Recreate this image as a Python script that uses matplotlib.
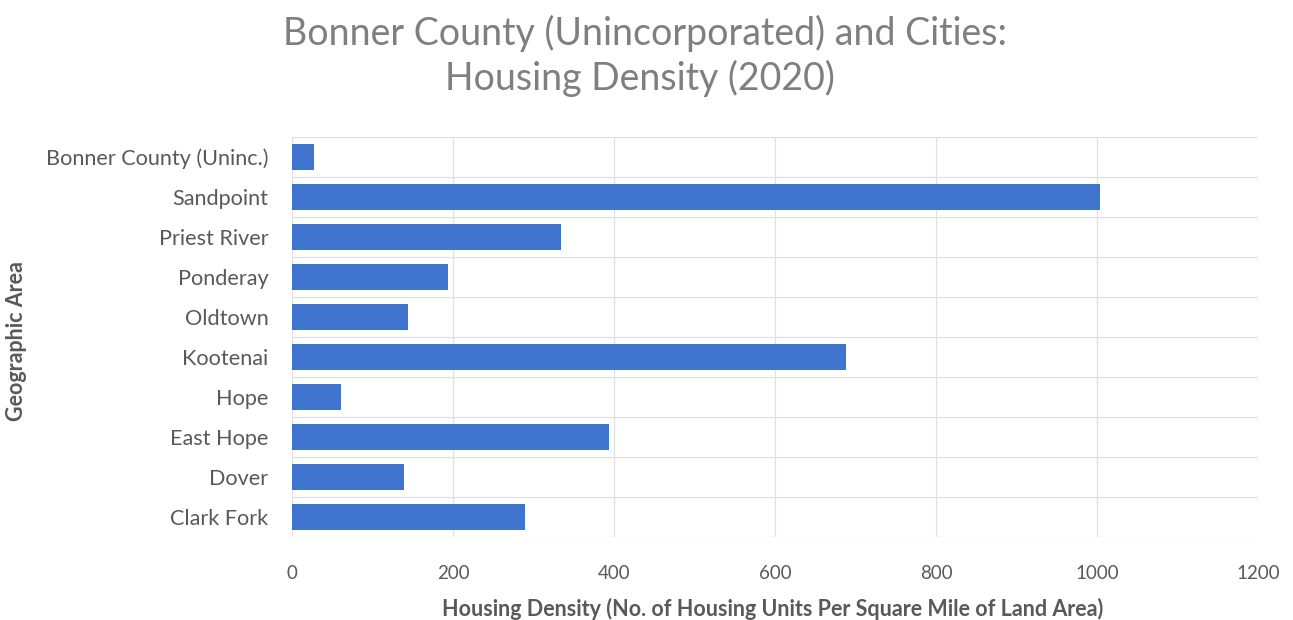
import matplotlib
matplotlib.use("Agg")
import matplotlib.pyplot as plt
import numpy as np

categories = ["Bonner County (Uninc.)", "Sandpoint", "Priest River", "Ponderay",
              "Oldtown", "Kootenai", "Hope", "East Hope", "Dover", "Clark Fork"]
values = [27, 1004, 334, 194, 144, 688, 61, 394, 139, 289]
xticks = [0, 200, 400, 600, 800, 1000, 1200]

plt.rcParams['font.family'] = ['Lato', 'DejaVu Sans']

fig = plt.figure(figsize=(12.93, 6.2), dpi=100)
ax = fig.add_axes([292/1293, 1 - 537/620, (1258-292)/1293, 400/620])

n = len(categories)
y = np.arange(n)
ax.barh(y, values, height=0.63, color="#4174CF", zorder=3)
ax.set_ylim(n - 0.5, -0.5)
ax.set_xlim(0, 1200)
ax.set_xticks(xticks)
ax.set_xticklabels([str(t) for t in xticks], fontsize=13.5, color="#595959")
ax.set_yticks(y)
ax.set_yticklabels(categories, fontsize=15.6, color="#595959")
ax.tick_params(axis='both', length=0)
ax.tick_params(axis='x', pad=20)
ax.tick_params(axis='y', pad=17)

# gridlines: vertical at ticks, horizontal at category boundaries
for t in xticks:
    ax.axvline(t, color="#E0E0E0", lw=0.9, zorder=1)
for b in np.arange(-0.5, n, 1.0):
    ax.axhline(b, color="#E0E0E0", lw=0.9, zorder=1)
for s in ax.spines.values():
    s.set_visible(False)

ax.set_xlabel("Housing Density (No. of Housing Units Per Square Mile of Land Area)",
              fontsize=15.5, fontweight="bold", color="#595959")
ax.xaxis.set_label_coords(0.498, -0.152)
ax.set_ylabel("Geographic Area", fontsize=15.5, fontweight="bold", color="#595959")
ax.yaxis.set_label_coords(-0.274, 0.49)

fig.text(645/1293, 1 - 33/620, "Bonner County (Unincorporated) and Cities:",
         ha="center", va="center", fontsize=27, color="#7F7F7F")
fig.text(640/1293, 1 - 78/620, "Housing Density (2020)",
         ha="center", va="center", fontsize=27, color="#7F7F7F")

fig.savefig("out.png", dpi=100)
